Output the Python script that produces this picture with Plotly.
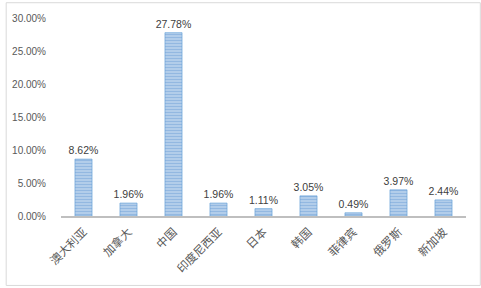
import plotly.graph_objects as go

categories = ["澳大利亚", "加拿大", "中国", "印度尼西亚", "日本", "韩国", "菲律宾", "俄罗斯", "新加坡"]
values = [0.0862, 0.0196, 0.2778, 0.0196, 0.0111, 0.0305, 0.0049, 0.0397, 0.0244]
y_ticks = [0, 0.05, 0.10, 0.15, 0.20, 0.25, 0.30]

W, H = 481, 288
ml, mr, mt, mb = 56, 15, 16, 71
pw, ph = W - ml - mr, H - mt - mb

fig = go.Figure(go.Bar(
    x=categories, y=values,
    width=0.38,
    marker=dict(color="#D6E6F5", line=dict(width=0.6, color="#5B9BD5"),
                pattern=dict(shape="-", fgcolor="#4A88CC", bgcolor="#DCE9F6", size=3, solidity=0.72)),
    text=[f"{v*100:.2f}%" for v in values],
    textposition="outside",
    constraintext="none",
    textfont=dict(size=10.5, color="#404040", family="Liberation Sans, Noto Sans CJK SC"),
    cliponaxis=False,
))

fig.update_layout(
    width=W, height=H,
    margin=dict(l=ml, r=mr, t=mt, b=mb),
    paper_bgcolor="white", plot_bgcolor="white",
    showlegend=False,
    bargap=0.62,
    font=dict(family="Liberation Sans, Noto Sans CJK SC", color="#595959", size=11),
    xaxis=dict(showline=True, linecolor="#BFBFBF", linewidth=1.5, ticks="", tickangle=-45,
               tickfont=dict(family="Noto Sans CJK SC", size=11.5, color="#595959"),
               ticklabelstandoff=3, showgrid=False),
    yaxis=dict(range=[0, 0.30], tickvals=y_ticks, tickformat=".2%", showgrid=False,
               showline=False, zeroline=False, ticks="", ticklabelstandoff=14,
               tickfont=dict(size=10, color="#595959", family="Liberation Sans")),
    shapes=[dict(type="rect", xref="paper", yref="paper",
                 x0=(0.5 - ml) / pw, x1=(W - 0.5 - ml) / pw,
                 y0=-(mb - 0.5) / ph, y1=1 + (mt - 0.5) / ph,
                 line=dict(color="#D9D9D9", width=1))],
)

fig.write_html("out.html")
